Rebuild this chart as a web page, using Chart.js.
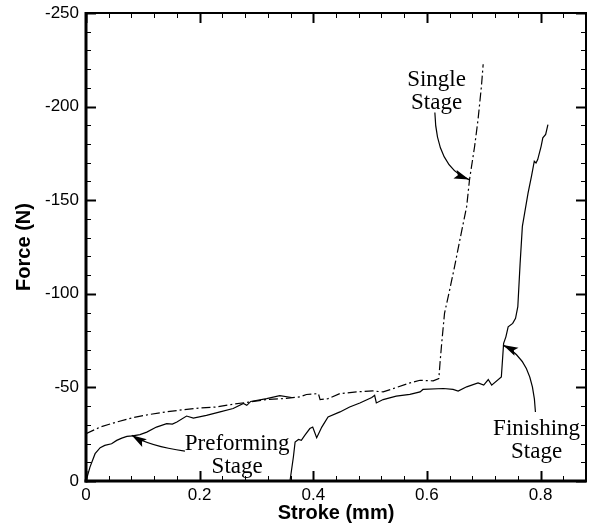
<!DOCTYPE html>
<html>
<head>
<meta charset="utf-8">
<script src="https://cdn.jsdelivr.net/npm/chart.js@4/dist/chart.umd.min.js"></script>
<style>
  html, body { margin: 0; padding: 0; background: #fff; }
  #wrap { width: 592px; height: 531px; position: relative; }
</style>
</head>
<body>
<div id="wrap"><canvas id="c" width="592" height="531"></canvas></div>
<script>
// ---- data ----
const preStroke = [0, 0.007, 0.016, 0.025, 0.033, 0.045, 0.054, 0.063, 0.072, 0.082, 0.095, 0.107, 0.124, 0.142, 0.152, 0.160, 0.177, 0.189, 0.212, 0.236, 0.259, 0.277, 0.283, 0.290, 0.318, 0.341, 0.362];
const preForce  = [0, -7.4, -14.6, -17.8, -19.0, -19.9, -21.7, -22.9, -23.8, -24.1, -24.8, -26.1, -28.8, -30.6, -30.4, -31.5, -34.7, -33.6, -35.1, -36.9, -38.7, -41.4, -40.4, -42.5, -44.0, -45.6, -44.6];

const finStroke = [0.359, 0.365, 0.368, 0.374, 0.379, 0.385, 0.394, 0.399, 0.406, 0.415, 0.426, 0.447, 0.464, 0.482, 0.503, 0.508, 0.511, 0.523, 0.546, 0.570, 0.588, 0.593, 0.629, 0.646, 0.655, 0.670, 0.690, 0.700, 0.708, 0.714, 0.731, 0.735, 0.739, 0.743, 0.751, 0.756, 0.760, 0.764, 0.768, 0.772, 0.778, 0.784, 0.789, 0.792, 0.795, 0.801, 0.804, 0.809, 0.813];
const finForce  = [0, -12.8, -20.8, -22.2, -21.7, -24.4, -28.0, -28.8, -23.1, -28.8, -34.2, -36.9, -39.5, -41.7, -44.6, -45.8, -41.7, -43.5, -45.3, -46.3, -47.6, -48.9, -49.4, -48.9, -48.0, -50.3, -52.4, -51.2, -54.2, -51.2, -55.6, -73.5, -77.0, -82.4, -84.2, -86.9, -93.1, -116.0, -136.0, -143.1, -153.8, -162.7, -170.8, -169.9, -171.7, -178.8, -183.3, -185.1, -190.4];

const sglStroke = [0, 0.025, 0.054, 0.083, 0.113, 0.141, 0.171, 0.200, 0.229, 0.259, 0.288, 0.318, 0.347, 0.376, 0.388, 0.409, 0.412, 0.426, 0.447, 0.476, 0.505, 0.523, 0.546, 0.567, 0.588, 0.611, 0.621, 0.623, 0.626, 0.631, 0.640, 0.649, 0.658, 0.670, 0.675, 0.684, 0.690, 0.696, 0.699];
const sglForce  = [-25.3, -28.8, -31.5, -33.9, -35.6, -36.9, -38.1, -39.0, -39.5, -41.0, -42.2, -43.5, -44.0, -44.9, -46.2, -46.7, -43.5, -44.0, -46.7, -47.6, -48.1, -47.6, -49.9, -52.1, -53.8, -53.5, -54.7, -62.8, -73.5, -89.6, -102.0, -115.0, -128.8, -146.7, -161.0, -178.8, -193.1, -211.0, -222.6];

const xMajorTicks = [0, 0.2, 0.4, 0.6, 0.8];
const yMajorTicks = [0, -50, -100, -150, -200, -250];

const labelSingle = ['Single', 'Stage'];
const labelPre    = ['Preforming', 'Stage'];
const labelFin    = ['Finishing', 'Stage'];

// ---- layout / annotation placement (data coordinates) ----
const X_MIN = 0, X_MAX = 0.88, X_MINOR = 0.04;
const Y_MIN = -250, Y_MAX = 0, Y_MINOR = 10;

const annotations = [
  { lines: labelSingle, at: [0.617, -210.8],
    arrow: [[0.614, -196.9], [0.6157, -177.0], [0.6368, -165.3], [0.6742, -161.0]] },
  { lines: labelPre, at: [0.266, -16.3],
    arrow: [[0.1741, -15.96], [0.139, -17.4], [0.1038, -20.1], [0.0804, -24.4]] },
  { lines: labelFin, at: [0.793, -24.4],
    arrow: [[0.791, -36.9], [0.788, -56.5], [0.7704, -67.2], [0.734, -72.6]] }
];

function pts(xs, ys) { return xs.map((v, i) => ({ x: v, y: ys[i] })); }

const framePlugin = {
  id: 'frameTicks',
  afterDatasetsDraw(chart) {
    const { ctx, chartArea: a, scales: { x, y } } = chart;
    ctx.save();
    ctx.strokeStyle = '#000';
    ctx.lineCap = 'butt';
    const seg = (x1, y1, x2, y2) => { ctx.beginPath(); ctx.moveTo(x1, y1); ctx.lineTo(x2, y2); ctx.stroke(); };
    const nx = Math.round((X_MAX - X_MIN) / X_MINOR);
    for (let i = 0; i <= nx; i++) {
      const v = X_MIN + i * X_MINOR;
      const major = xMajorTicks.some(t => Math.abs(t - v) < 1e-6);
      const px = Math.round(x.getPixelForValue(v)) + 0.5;
      ctx.lineWidth = major ? 2 : 1;
      const len = major ? 10 : 5;
      seg(px, a.bottom, px, a.bottom - len);
      seg(px, a.top, px, a.top + len);
    }
    const ny = Math.round((Y_MAX - Y_MIN) / Y_MINOR);
    for (let i = 0; i <= ny; i++) {
      const v = Y_MIN + i * Y_MINOR;
      const major = yMajorTicks.some(t => Math.abs(t - v) < 1e-6);
      const py = Math.round(y.getPixelForValue(v)) + 0.5;
      ctx.lineWidth = major ? 2 : 1;
      const len = major ? 10 : 5;
      seg(a.left, py, a.left + len, py);
      seg(a.right, py, a.right - len, py);
    }
    // frame
    ctx.lineWidth = 2;
    seg(a.left - 1, a.top, a.right + 1, a.top);
    seg(a.right, a.top, a.right, a.bottom);
    ctx.lineWidth = 3;
    seg(a.left - 1.5, a.bottom, a.right + 1, a.bottom);
    seg(a.left, a.top - 1, a.left, a.bottom + 1.5);

    // annotations
    ctx.fillStyle = '#000';
    ctx.font = '23px "Liberation Serif", "Times New Roman", serif';
    ctx.textAlign = 'center';
    ctx.textBaseline = 'alphabetic';
    annotations.forEach(an => {
      const tx = x.getPixelForValue(an.at[0]);
      const ty = y.getPixelForValue(an.at[1]);
      an.lines.forEach((t, i) => ctx.fillText(t, tx, ty + i * 23));
      const P = an.arrow.map(p => [x.getPixelForValue(p[0]), y.getPixelForValue(p[1])]);
      ctx.lineWidth = 1.2;
      ctx.beginPath();
      ctx.moveTo(P[0][0], P[0][1]);
      ctx.bezierCurveTo(P[1][0], P[1][1], P[2][0], P[2][1], P[3][0], P[3][1]);
      ctx.stroke();
      const dx = P[3][0] - P[2][0], dy = P[3][1] - P[2][1];
      const L = Math.hypot(dx, dy) || 1;
      const ux = dx / L, uy = dy / L;
      const hl = 15, hw = 4.5;
      const bx = P[3][0] - ux * hl, by = P[3][1] - uy * hl;
      ctx.beginPath();
      ctx.moveTo(P[3][0], P[3][1]);
      ctx.lineTo(bx - uy * hw, by + ux * hw);
      ctx.lineTo(bx + ux * 3, by + uy * 3);
      ctx.lineTo(bx + uy * hw, by - ux * hw);
      ctx.closePath();
      ctx.fill();
    });
    ctx.restore();
  }
};

const tickFont = { family: '"Liberation Sans", Arial, sans-serif', size: 17 };
const titleFont = { family: '"Liberation Sans", Arial, sans-serif', size: 20, weight: 'bold' };

new Chart(document.getElementById('c'), {
  type: 'line',
  data: {
    datasets: [
      { label: 'Preforming Stage', data: pts(preStroke, preForce), borderColor: '#000', borderWidth: 1.2, pointRadius: 0, fill: false, tension: 0 },
      { label: 'Finishing Stage', data: pts(finStroke, finForce), borderColor: '#000', borderWidth: 1.2, pointRadius: 0, fill: false, tension: 0 },
      { label: 'Single Stage', data: pts(sglStroke, sglForce), borderColor: '#000', borderWidth: 1.2, borderDash: [9, 3, 2, 3], pointRadius: 0, fill: false, tension: 0 }
    ]
  },
  options: {
    responsive: false,
    animation: false,
    devicePixelRatio: 1,
    layout: { padding: { top: 13, right: 6, left: 0, bottom: 0 } },
    plugins: { legend: { display: false }, tooltip: { enabled: false } },
    scales: {
      x: {
        type: 'linear', min: X_MIN, max: X_MAX,
        grid: { display: false, drawTicks: false },
        border: { display: false },
        afterFit: s => { s.height = 50; s.paddingLeft = 0; s.paddingRight = 0; },
        afterBuildTicks: s => { s.ticks = xMajorTicks.map(v => ({ value: v })); },
        ticks: { color: '#000', font: tickFont, padding: 4, maxRotation: 0 },
        title: { display: true, text: 'Stroke (mm)', color: '#000', font: titleFont, padding: { top: 0, bottom: 6 } }
      },
      y: {
        type: 'linear', min: Y_MIN, max: Y_MAX, reverse: true,
        grid: { display: false, drawTicks: false },
        border: { display: false },
        afterFit: s => { s.width = 86; s.paddingTop = 0; s.paddingBottom = 0; },
        afterBuildTicks: s => { s.ticks = yMajorTicks.map(v => ({ value: v })); },
        ticks: { color: '#000', font: tickFont, padding: 7 },
        title: { display: true, text: 'Force (N)', color: '#000', font: titleFont, padding: { top: 12, bottom: 0 } }
      }
    }
  },
  plugins: [framePlugin]
});
</script>
</body>
</html>
